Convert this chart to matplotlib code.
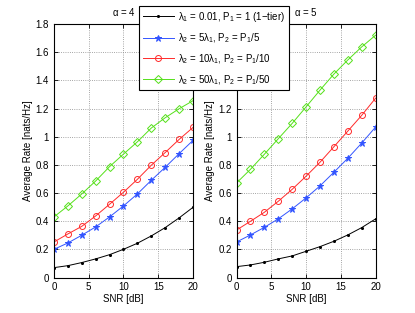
import numpy as np
import matplotlib
matplotlib.use("Agg")
import matplotlib.pyplot as plt

# SNR axis in dB
snr = [0, 2, 4, 6, 8, 10, 12, 14, 16, 18, 20]

# alpha = 4 panel
a4_tier1 = [0.071, 0.085, 0.107, 0.133, 0.163, 0.201, 0.244, 0.296, 0.355, 0.424, 0.499]
a4_l5 = [0.201, 0.246, 0.301, 0.360, 0.431, 0.509, 0.594, 0.691, 0.783, 0.880, 0.974]
a4_l10 = [0.253, 0.310, 0.364, 0.438, 0.521, 0.606, 0.698, 0.798, 0.888, 0.981, 1.066]
a4_l50 = [0.431, 0.509, 0.594, 0.686, 0.788, 0.877, 0.964, 1.062, 1.135, 1.199, 1.256]

# alpha = 5 panel
a5_tier1 = [0.078, 0.090, 0.109, 0.133, 0.154, 0.187, 0.220, 0.258, 0.303, 0.355, 0.417]
a5_l5 = [0.253, 0.303, 0.357, 0.417, 0.488, 0.566, 0.651, 0.748, 0.847, 0.955, 1.069]
a5_l10 = [0.338, 0.400, 0.464, 0.542, 0.627, 0.720, 0.819, 0.929, 1.040, 1.152, 1.274]
a5_l50 = [0.672, 0.769, 0.876, 0.986, 1.095, 1.212, 1.331, 1.445, 1.545, 1.638, 1.721]

labels = [r"$\lambda_1$ = 0.01, P$_1$ = 1 (1$-$tier)",
          r"$\lambda_2$ = 5$\lambda_1$, P$_2$ = P$_1$/5",
          r"$\lambda_2$ = 10$\lambda_1$, P$_2$ = P$_1$/10",
          r"$\lambda_2$ = 50$\lambda_1$, P$_2$ = P$_1$/50"]
titles = [r"$\alpha$ = 4", r"$\alpha$ = 5"]

plt.rcParams['font.family'] = ['Liberation Sans', 'DejaVu Sans']
plt.rcParams['mathtext.fontset'] = 'custom'
plt.rcParams['mathtext.rm'] = 'Liberation Sans'
plt.rcParams['mathtext.it'] = 'Liberation Sans'

fig = plt.figure(figsize=(4.15, 3.13), dpi=100)
ax1 = fig.add_axes([0.130, 0.113, 0.335, 0.810])
ax2 = fig.add_axes([0.570, 0.113, 0.335, 0.810])

styles = [dict(color='black', marker='.', ms=3, mfc='black'),
          dict(color='#3355ff', marker='*', ms=4.5),
          dict(color='#ff2a2a', marker='o', ms=4.3, mfc='none'),
          dict(color='#55e01a', marker='D', ms=3.8, mfc='none')]

panels = [(ax1, [a4_tier1, a4_l5, a4_l10, a4_l50]),
          (ax2, [a5_tier1, a5_l5, a5_l10, a5_l50])]

handles = []
for i, (ax, series) in enumerate(panels):
    for s, st, lab in zip(series, styles, labels):
        h, = ax.plot(snr, s, lw=0.7, mew=0.7, label=lab, **st)
        if i == 0:
            handles.append(h)
    ax.set_xlim(0, 20)
    ax.set_ylim(0, 1.8)
    ax.set_xticks([0, 5, 10, 15, 20])
    ax.set_yticks(np.arange(0, 1.81, 0.2))
    ax.set_yticklabels(['0', '0.2', '0.4', '0.6', '0.8', '1', '1.2', '1.4', '1.6', '1.8'])
    ax.grid(True, linestyle=':', color='#888888', lw=0.6)
    ax.tick_params(direction='in', top=True, right=True, labelsize=7, length=3, width=0.6)
    for sp in ax.spines.values():
        sp.set_linewidth(0.8)
    ax.set_xlabel("SNR [dB]", fontsize=7, labelpad=1)
    ax.set_ylabel("Average Rate [nats/Hz]", fontsize=7, labelpad=2)
    ax.set_title(titles[i], fontsize=7, pad=6)

leg = fig.legend(handles=handles, loc='upper left', bbox_to_anchor=(0.335, 0.981),
                 fontsize=7, frameon=True, fancybox=False, edgecolor='black',
                 framealpha=1, borderaxespad=0,
                 handlelength=3.2, borderpad=0.4, labelspacing=0.75, handletextpad=0.4)
leg.get_frame().set_linewidth(0.8)

fig.savefig("out.png", dpi=100)
